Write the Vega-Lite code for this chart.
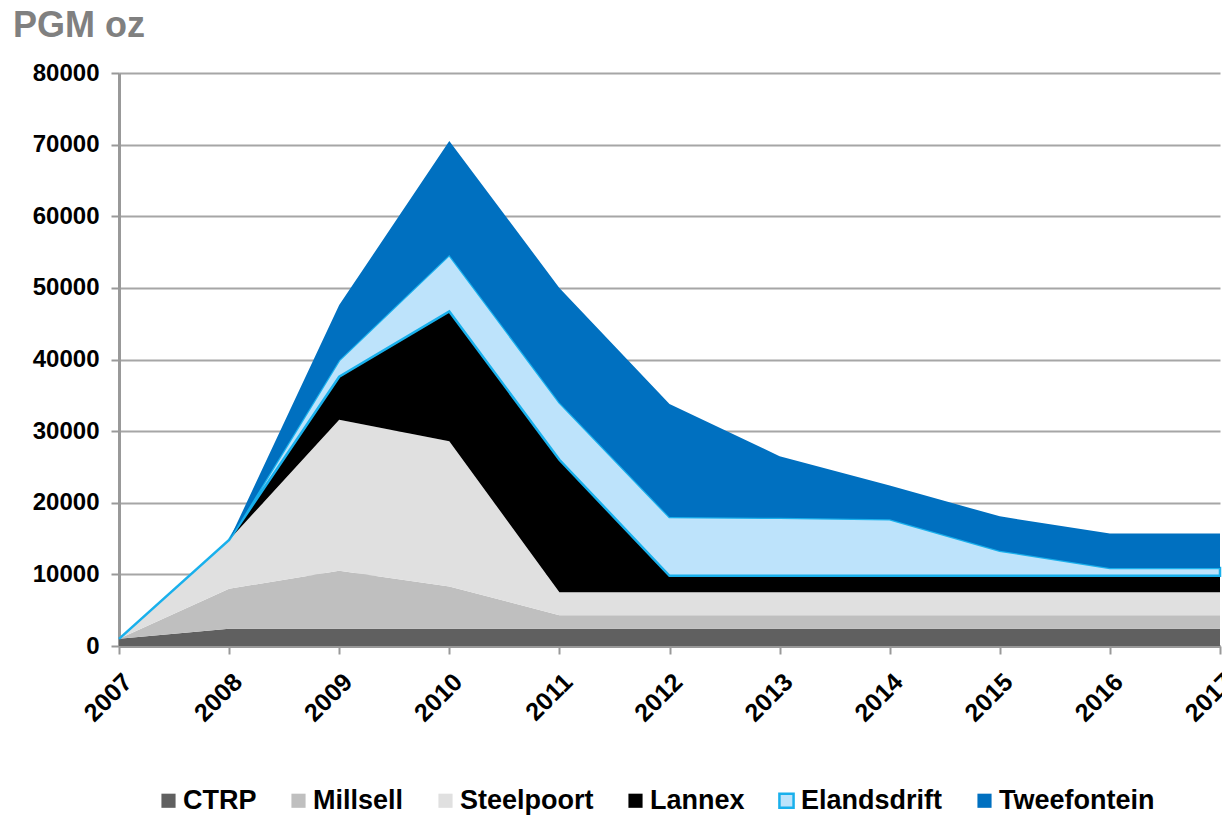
{
  "$schema": "https://vega.github.io/schema/vega-lite/v6.json",
  "autosize": {"type": "none"},
  "padding": {"left": 119, "top": 73, "right": 2, "bottom": 170},
  "width": 1101,
  "height": 573,
  "background": "white",
  "config": {"view": {"stroke": null}, "font": "Liberation Sans"},
  "title": {
    "text": "PGM oz",
    "anchor": "start",
    "frame": "group",
    "fontSize": 36,
    "fontWeight": "bold",
    "color": "#808080",
    "dx": -106,
    "offset": 16
  },
  "data": {
    "values": [
      {"year": "2007", "mine": "CTRP", "oz": 1000},
      {"year": "2008", "mine": "CTRP", "oz": 2400},
      {"year": "2009", "mine": "CTRP", "oz": 2400},
      {"year": "2010", "mine": "CTRP", "oz": 2400},
      {"year": "2011", "mine": "CTRP", "oz": 2400},
      {"year": "2012", "mine": "CTRP", "oz": 2400},
      {"year": "2013", "mine": "CTRP", "oz": 2400},
      {"year": "2014", "mine": "CTRP", "oz": 2400},
      {"year": "2015", "mine": "CTRP", "oz": 2400},
      {"year": "2016", "mine": "CTRP", "oz": 2400},
      {"year": "2017", "mine": "CTRP", "oz": 2400},
      {"year": "2007", "mine": "Millsell", "oz": 0},
      {"year": "2008", "mine": "Millsell", "oz": 5600},
      {"year": "2009", "mine": "Millsell", "oz": 8100},
      {"year": "2010", "mine": "Millsell", "oz": 5900},
      {"year": "2011", "mine": "Millsell", "oz": 1900},
      {"year": "2012", "mine": "Millsell", "oz": 1900},
      {"year": "2013", "mine": "Millsell", "oz": 1900},
      {"year": "2014", "mine": "Millsell", "oz": 1900},
      {"year": "2015", "mine": "Millsell", "oz": 1900},
      {"year": "2016", "mine": "Millsell", "oz": 1900},
      {"year": "2017", "mine": "Millsell", "oz": 1900},
      {"year": "2007", "mine": "Steelpoort", "oz": 0},
      {"year": "2008", "mine": "Steelpoort", "oz": 6800},
      {"year": "2009", "mine": "Steelpoort", "oz": 21100},
      {"year": "2010", "mine": "Steelpoort", "oz": 20300},
      {"year": "2011", "mine": "Steelpoort", "oz": 3200},
      {"year": "2012", "mine": "Steelpoort", "oz": 3200},
      {"year": "2013", "mine": "Steelpoort", "oz": 3200},
      {"year": "2014", "mine": "Steelpoort", "oz": 3200},
      {"year": "2015", "mine": "Steelpoort", "oz": 3200},
      {"year": "2016", "mine": "Steelpoort", "oz": 3200},
      {"year": "2017", "mine": "Steelpoort", "oz": 3200},
      {"year": "2007", "mine": "Lannex", "oz": 0},
      {"year": "2008", "mine": "Lannex", "oz": 0},
      {"year": "2009", "mine": "Lannex", "oz": 6000},
      {"year": "2010", "mine": "Lannex", "oz": 18100},
      {"year": "2011", "mine": "Lannex", "oz": 18500},
      {"year": "2012", "mine": "Lannex", "oz": 2300},
      {"year": "2013", "mine": "Lannex", "oz": 2300},
      {"year": "2014", "mine": "Lannex", "oz": 2300},
      {"year": "2015", "mine": "Lannex", "oz": 2300},
      {"year": "2016", "mine": "Lannex", "oz": 2300},
      {"year": "2017", "mine": "Lannex", "oz": 2300},
      {"year": "2007", "mine": "Elandsdrift", "oz": 0},
      {"year": "2008", "mine": "Elandsdrift", "oz": 0},
      {"year": "2009", "mine": "Elandsdrift", "oz": 2300},
      {"year": "2010", "mine": "Elandsdrift", "oz": 7900},
      {"year": "2011", "mine": "Elandsdrift", "oz": 8000},
      {"year": "2012", "mine": "Elandsdrift", "oz": 8200},
      {"year": "2013", "mine": "Elandsdrift", "oz": 8100},
      {"year": "2014", "mine": "Elandsdrift", "oz": 7900},
      {"year": "2015", "mine": "Elandsdrift", "oz": 3500},
      {"year": "2016", "mine": "Elandsdrift", "oz": 1100},
      {"year": "2017", "mine": "Elandsdrift", "oz": 1100},
      {"year": "2007", "mine": "Tweefontein", "oz": 0},
      {"year": "2008", "mine": "Tweefontein", "oz": 0},
      {"year": "2009", "mine": "Tweefontein", "oz": 7700},
      {"year": "2010", "mine": "Tweefontein", "oz": 15900},
      {"year": "2011", "mine": "Tweefontein", "oz": 16000},
      {"year": "2012", "mine": "Tweefontein", "oz": 15800},
      {"year": "2013", "mine": "Tweefontein", "oz": 8600},
      {"year": "2014", "mine": "Tweefontein", "oz": 4700},
      {"year": "2015", "mine": "Tweefontein", "oz": 4800},
      {"year": "2016", "mine": "Tweefontein", "oz": 4800},
      {"year": "2017", "mine": "Tweefontein", "oz": 4800}
    ]
  },
  "transform": [
    {"calculate": "indexof(['CTRP','Millsell','Steelpoort','Lannex','Elandsdrift','Tweefontein'], datum.mine)", "as": "k"}
  ],
  "mark": {"type": "area", "strokeWidth": 2.5, "opacity": 1},
  "encoding": {
    "x": {
      "field": "year",
      "type": "ordinal",
      "scale": {"type": "point", "padding": 0},
      "axis": {
        "title": null,
        "labelAngle": -45,
        "labelFontSize": 25,
        "labelFontWeight": "bold",
        "labelColor": "#000000",
        "labelPadding": 15,
        "domainColor": "#999999",
        "domainWidth": 3,
        "tickColor": "#999999",
        "tickWidth": 2,
        "tickSize": 8,
        "grid": false
      }
    },
    "y": {
      "field": "oz",
      "type": "quantitative",
      "stack": "zero",
      "scale": {"domain": [0, 80000], "nice": false},
      "axis": {
        "title": null,
        "values": [0, 10000, 20000, 30000, 40000, 50000, 60000, 70000, 80000],
        "format": "d",
        "labelFontSize": 24,
        "labelFontWeight": "bold",
        "labelColor": "#000000",
        "labelPadding": 12,
        "domainColor": "#999999",
        "domainWidth": 3,
        "tickColor": "#999999",
        "tickWidth": 2,
        "tickSize": 8,
        "gridColor": "#a6a6a6",
        "gridWidth": 2
      }
    },
    "fill": {
      "field": "mine",
      "type": "nominal",
      "scale": {
        "domain": ["CTRP", "Millsell", "Steelpoort", "Lannex", "Elandsdrift", "Tweefontein"],
        "range": ["#606060", "#bfbfbf", "#e0e0e0", "#000000", "#bde3fb", "#0070c0"]
      },
      "legend": {
        "title": null,
        "orient": "none",
        "legendX": 36,
        "legendY": 714,
        "direction": "horizontal",
        "symbolType": "square",
        "symbolSize": 200,
        "symbolStrokeWidth": 2.5,
        "labelFontSize": 27,
        "labelFontWeight": "bold",
        "labelColor": "#000000",
        "labelOffset": 1,
        "columnPadding": 28
      }
    },
    "stroke": {
      "field": "mine",
      "type": "nominal",
      "scale": {
        "domain": ["CTRP", "Millsell", "Steelpoort", "Lannex", "Elandsdrift", "Tweefontein"],
        "range": ["transparent", "transparent", "transparent", "transparent", "#19b0ec", "transparent"]
      },
      "legend": {
        "title": null,
        "orient": "none",
        "legendX": 36,
        "legendY": 714,
        "direction": "horizontal",
        "symbolType": "square",
        "symbolSize": 200,
        "symbolStrokeWidth": 2.5,
        "labelFontSize": 27,
        "labelFontWeight": "bold",
        "labelColor": "#000000",
        "labelOffset": 1,
        "columnPadding": 28
      }
    },
    "order": {"field": "k", "type": "quantitative"}
  }
}
